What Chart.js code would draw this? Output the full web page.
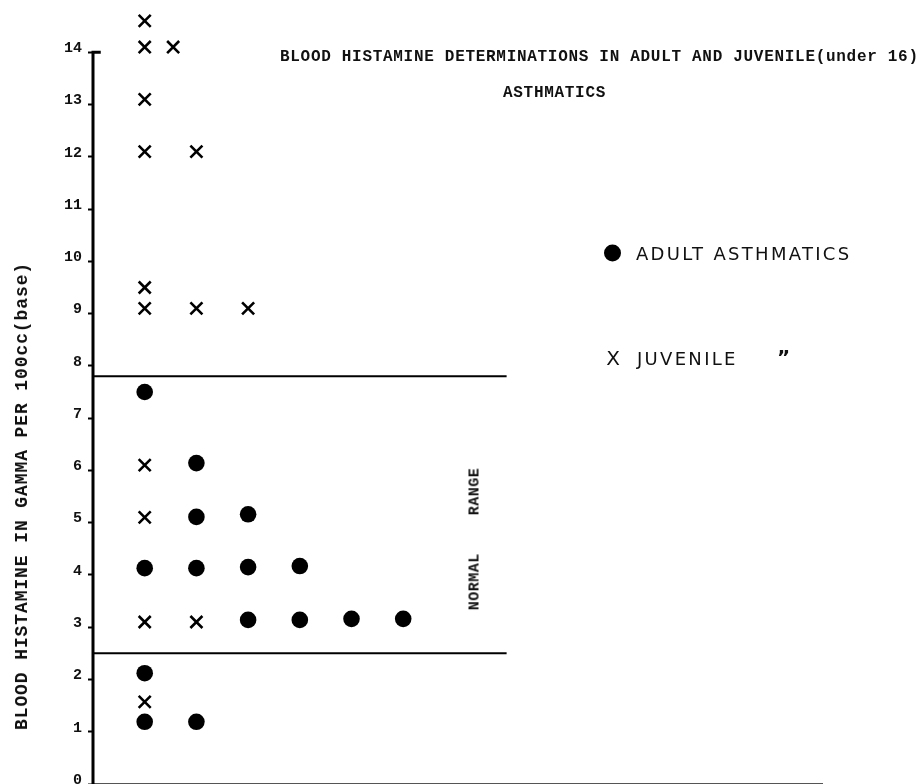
<!DOCTYPE html>
<html>
<head>
<meta charset="utf-8">
<title>Blood histamine determinations</title>
<script src="https://cdn.jsdelivr.net/npm/chart.js@4.4.1/dist/chart.umd.min.js"></script>
<style>
  html, body { margin: 0; padding: 0; background: #fff; }
  #wrap { position: relative; width: 922px; height: 784px; overflow: hidden; }
  #chart-box { position: absolute; left: 0; top: 0; width: 922px; height: 784px; }
  .tw { position: absolute; white-space: pre; color: #111;
        font-family: 'Liberation Mono', 'DejaVu Sans Mono', monospace; font-weight: bold; }
  .rot { transform: translate(-50%, -50%) rotate(-90deg); }
  #title { left: 280px; top: 57px; transform: translateY(-50%); font-size: 16px; letter-spacing: 0.7px; }
  #subtitle { left: 503px; top: 93px; transform: translateY(-50%); font-size: 16px; letter-spacing: 0.7px; }
  #y-title { left: 22px; top: 496px; font-size: 18px; letter-spacing: 0.9px; }
  #normal { left: 475px; top: 539px; font-size: 15px; letter-spacing: 0.5px; }
  .legend-item { position: absolute; left: 604px; white-space: nowrap; color: #111;
                 font-family: 'DejaVu Sans', sans-serif; font-size: 18px; letter-spacing: 2.3px;
                 transform: translateY(-50%); }
  .dot { display: inline-block; width: 17px; height: 17px; border-radius: 50%; background: #000;
         vertical-align: -2px; margin-right: 15px; }
  .xmark { display: inline-block; width: 18px; margin-right: 15px; text-align: center;
           letter-spacing: 0; font-size: 20px; }
  .ditto { position: absolute; left: 777px; top: 357px; transform: translateY(-50%);
           font-family: 'DejaVu Sans', sans-serif; font-weight: bold; font-size: 20px; color: #111; }
</style>
</head>
<body>
<div id="wrap">
  <div id="chart-box"><canvas id="chart"></canvas></div>
  <div class="tw" id="title">BLOOD HISTAMINE DETERMINATIONS IN ADULT AND JUVENILE(under 16)</div>
  <div class="tw" id="subtitle">ASTHMATICS</div>
  <div class="tw rot" id="y-title">BLOOD HISTAMINE IN GAMMA PER 100cc(base)</div>
  <div class="tw rot" id="normal">NORMAL    RANGE</div>
  <div class="legend-item" style="top:253px"><span class="dot"></span><span>ADULT ASTHMATICS</span></div>
  <div class="legend-item" style="top:358px"><span class="xmark">X</span><span>JUVENILE</span></div>
  <div class="ditto">&rdquo;</div>
</div>
<script>
// column position (x) and histamine level (y) for each subject
const adultX = [1, 1, 1, 1, 2, 2, 2, 2, 3, 3, 3, 4, 4, 5, 6];
const adultY = [7.5, 4.13, 2.12, 1.19, 6.14, 5.11, 4.13, 1.19, 5.16, 4.15, 3.14, 4.17, 3.14, 3.16, 3.16];

const juvX = [1, 1, 1, 1, 1, 1, 1, 1, 1, 1, 1.55, 2, 2, 2, 3];
const juvY = [14.6, 14.1, 13.1, 12.1, 9.5, 9.1, 6.1, 5.1, 3.1, 1.57, 14.1, 12.1, 9.1, 3.1, 9.1];

// normal range bounds, drawn from x = 0 to rangeEnd
const normalRange = [2.5, 7.8];
const rangeEnd = 8;

// labelled ticks; the drawn vertical axis stops at the last one, with a short hook
const yTicks = [0, 1, 2, 3, 4, 5, 6, 7, 8, 9, 10, 11, 12, 13, 14];
const yTop = 15;
const xMax = 14.1;
const axisHook = 0.15;

function pts(xs, ys) {
  return xs.map((x, i) => ({ x, y: ys[i] }));
}

function rule(path, width) {
  return {
    type: 'line',
    data: path,
    borderColor: '#000',
    borderWidth: width,
    pointRadius: 0,
    fill: false,
    clip: false,
  };
}

const yLast = yTicks[yTicks.length - 1];

new Chart(document.getElementById('chart'), {
  type: 'scatter',
  data: {
    datasets: [
      {
        label: 'Adult asthmatics',
        data: pts(adultX, adultY),
        pointStyle: 'circle',
        pointRadius: 8.3,
        backgroundColor: '#000',
        borderColor: '#000',
        borderWidth: 0,
      },
      {
        label: 'Juvenile',
        data: pts(juvX, juvY),
        pointStyle: 'crossRot',
        pointRadius: 8.5,
        borderColor: '#000',
        borderWidth: 2.6,
        clip: false,
      },
      rule([{ x: 0, y: normalRange[1] }, { x: rangeEnd, y: normalRange[1] }], 2),
      rule([{ x: 0, y: normalRange[0] }, { x: rangeEnd, y: normalRange[0] }], 2),
      // vertical axis
      rule([{ x: axisHook, y: yLast }, { x: 0, y: yLast }, { x: 0, y: yTicks[0] }], 3),
    ],
  },
  options: {
    responsive: true,
    maintainAspectRatio: false,
    animation: false,
    layout: { autoPadding: false, padding: { top: 0, right: 100, bottom: 0, left: 0 } },
    plugins: {
      legend: { display: false },
      tooltip: { enabled: false },
    },
    scales: {
      x: {
        type: 'linear',
        min: 0,
        max: xMax,
        ticks: { display: false },
        grid: { display: false, drawTicks: false },
        border: { display: true, color: '#555', width: 2 },
        afterFit: s => { s.height = 0; },
      },
      y: {
        min: 0,
        max: yTop,
        afterBuildTicks: s => { s.ticks = yTicks.map(v => ({ value: v })); },
        ticks: {
          padding: 6,
          labelOffset: -4,
          color: '#111',
          font: { family: "'Liberation Mono', monospace", size: 15, weight: 'bold' },
        },
        grid: { drawOnChartArea: false, tickLength: 5, tickWidth: 2, color: '#000' },
        border: { display: false },
        afterFit: s => { s.width = 93; s.paddingTop = 0; s.paddingBottom = 0; },
      },
    },
  },
});
</script>
</body>
</html>
